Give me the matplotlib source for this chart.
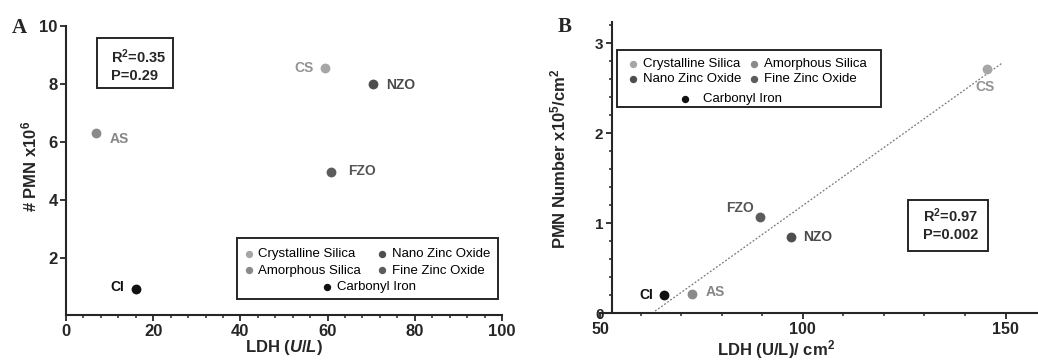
import numpy as np
import matplotlib
matplotlib.use("Agg")
import matplotlib.pyplot as plt
from matplotlib.ticker import MultipleLocator
from matplotlib.patches import Rectangle

# Data
abbrevs = ["CS", "AS", "NZO", "FZO", "CI"]
names = ["Crystalline Silica", "Amorphous Silica", "Nano Zinc Oxide",
         "Fine Zinc Oxide", "Carbonyl Iron"]
colors = ["#a6a6a6", "#8a8a8a", "#4e4e4e", "#5c5c5c", "#111111"]
label_colors = ["#939393", "#868686", "#4a4a4a", "#555555", "#111111"]

# panel A: LDH (U/L) vs PMN x10^6
ldh_a = [59.3, 6.8, 70.5, 60.8, 16.1]
pmn_a = [8.56, 6.3, 8.0, 4.94, 0.92]
# panel B: LDH (U/L)/cm2 vs PMN x10^5/cm2
ldh_b = [145.5, 72.8, 97.1, 89.5, 65.7]
pmn_b = [2.71, 0.21, 0.85, 1.07, 0.20]

stats_a = "R$^2$=0.35\nP=0.29"
stats_b = "R$^2$=0.97\nP=0.002"

plt.rcParams["font.family"] = ["Liberation Sans", "DejaVu Sans"]
plt.rcParams["mathtext.fontset"] = "custom"
plt.rcParams["mathtext.rm"] = "Liberation Sans:bold"
plt.rcParams["mathtext.bf"] = "Liberation Sans:bold"
plt.rcParams["mathtext.it"] = "Liberation Sans:italic:bold"

INK = "#262626"

fig = plt.figure(figsize=(10.38, 3.63), dpi=100)
ax_a = fig.add_axes([0.0636, 0.1309, 0.42, 0.7975])
ax_b = fig.add_axes([0.578, 0.1369, 0.422, 0.8033])


def style_axes(ax, xsize, ysize):
    for s in ["top", "right"]:
        ax.spines[s].set_visible(False)
    for s in ["left", "bottom"]:
        ax.spines[s].set_linewidth(1.5)
        ax.spines[s].set_color(INK)
    ax.tick_params(which="major", direction="out", length=4, width=1.3,
                   color=INK, labelcolor=INK, pad=2)
    ax.tick_params(which="minor", direction="out", length=2.5, width=1.1, color=INK)
    ax.tick_params(axis="x", labelsize=xsize)
    ax.tick_params(axis="y", labelsize=ysize)
    for lab in ax.get_xticklabels() + ax.get_yticklabels():
        lab.set_fontweight("bold")


def place_labels(ax, xs, ys, offsets):
    for i, ab in enumerate(abbrevs):
        dx, dy, ha = offsets[ab]
        ax.annotate(ab, (xs[i], ys[i]), xytext=(dx, dy), textcoords="offset pixels",
                    ha=ha, va="center", fontsize=10, fontweight="bold",
                    color=label_colors[i])


def stats_box(ax, txt, box, text_xy):
    x0, y0, x1, y1 = box
    ax.add_patch(Rectangle((x0, y0), x1 - x0, y1 - y0, transform=ax.transAxes,
                           fill=True, fc="white", lw=1.4, ec=INK, zorder=5))
    ax.text(text_xy[0], text_xy[1], txt, transform=ax.transAxes, ha="left",
            va="center", fontsize=10.5, fontweight="bold", color=INK,
            linespacing=1.25, zorder=6)


def add_legend(ax, order, handles, frame, first_anchor, last_anchor, colspacing,
               rowspacing, last_pad):
    x0, y0, x1, y1 = frame
    ax.add_patch(Rectangle((x0, y0), x1 - x0, y1 - y0, transform=ax.transAxes,
                           fill=False, lw=1.4, ec=INK, zorder=5))
    leg1 = ax.legend([handles[i] for i in order], [names[i] for i in order],
                     ncol=2, loc="upper left", bbox_to_anchor=first_anchor,
                     frameon=False, fontsize=9.5, borderpad=0, borderaxespad=0,
                     handlelength=0.8, handletextpad=0.33, labelspacing=rowspacing,
                     columnspacing=colspacing, markerscale=0.75)
    ax.add_artist(leg1)
    ax.legend([handles[4]], [names[4]], loc="upper left", bbox_to_anchor=last_anchor,
              frameon=False, fontsize=9.5, borderpad=0, borderaxespad=0,
              handlelength=0.8, handletextpad=last_pad, markerscale=0.75)


# ---- panel A ----
handles_a = []
for i in range(len(abbrevs)):
    h = ax_a.scatter(ldh_a[i], pmn_a[i], s=50, color=colors[i], zorder=3, linewidths=0)
    handles_a.append(h)
ax_a.set_xlim(0, 100)
ax_a.set_ylim(0, 10)
ax_a.xaxis.set_major_locator(MultipleLocator(20))
ax_a.xaxis.set_minor_locator(MultipleLocator(4))
ax_a.set_yticks([2, 4, 6, 8, 10])
style_axes(ax_a, 12, 12)
ax_a.set_xlabel("LDH $\\mathit{(U/L)}$", fontsize=12, fontweight="bold", color=INK)
ax_a.xaxis.set_label_coords(0.5, -0.078)
ax_a.set_ylabel("# PMN x10$^6$", fontsize=12, fontweight="bold", color=INK)
ax_a.yaxis.set_label_coords(-0.062, 0.514)
place_labels(ax_a, ldh_a, pmn_a,
             {"CS": (-11, 0, "right"), "AS": (14, -6, "left"), "NZO": (13, -1, "left"),
              "FZO": (17, 1, "left"), "CI": (-12, 2, "right")})
stats_box(ax_a, stats_a, (0.0704, 0.787, 0.246, 0.9596), (0.1028, 0.864))
add_legend(ax_a, [0, 1, 2, 3], handles_a, (0.3915, 0.057, 0.990, 0.269),
           (0.4069, 0.234), (0.5865, 0.119), 1.19, 0.33, 0.33)
ax_a.text(-0.125, 0.993, "A", transform=ax_a.transAxes, ha="left", va="center",
          fontsize=15, fontweight="bold", family="Liberation Serif", color=INK)

# ---- panel B ----
handles_b = []
for i in range(len(abbrevs)):
    h = ax_b.scatter(ldh_b[i], pmn_b[i], s=50, color=colors[i], zorder=3, linewidths=0)
    handles_b.append(h)
slope, icept = np.polyfit(ldh_b, pmn_b, 1)
fit_x = np.array([-icept / slope, max(ldh_b) + 3.7])
ax_b.plot(fit_x, slope * fit_x + icept, ls=(0, (1.5, 1.5)), lw=0.9, color="#777777",
          zorder=2)
ax_b.set_xlim(50, 158)
ax_b.set_ylim(0, 3.24)
ax_b.spines["left"].set_position(("data", 52.9))
ax_b.xaxis.set_major_locator(MultipleLocator(50))
ax_b.xaxis.set_minor_locator(MultipleLocator(10))
ax_b.set_yticks([0, 1, 2, 3])
ax_b.yaxis.set_minor_locator(MultipleLocator(0.2))
style_axes(ax_b, 11.5, 11)
ax_b.set_xlabel("LDH (U/L)/ cm$^2$", fontsize=12, fontweight="bold", color=INK)
ax_b.xaxis.set_label_coords(0.402, -0.085)
ax_b.set_ylabel("PMN Number x10$^5$/cm$^2$", fontsize=12, fontweight="bold",
                color=INK)
ax_b.yaxis.set_label_coords(-0.073, 0.53)
place_labels(ax_b, ldh_b, pmn_b,
             {"CS": (-2, -18, "center"), "AS": (13, 2, "left"), "NZO": (12, 0, "left"),
              "FZO": (-6, 9, "right"), "CI": (-11, 0, "right")})
stats_box(ax_b, stats_b, (0.7025, 0.2136, 0.8865, 0.3885), (0.7367, 0.306))
add_legend(ax_b, [0, 2, 1, 3], handles_b, (0.0395, 0.7065, 0.641, 0.903),
           (0.0639, 0.876), (0.182, 0.756), 0.6, 0.21, 1.0)
ax_b.text(-0.096, 0.983, "B", transform=ax_b.transAxes, ha="left", va="center",
          fontsize=15, fontweight="bold", family="Liberation Serif", color=INK)

fig.savefig("out.png", dpi=100)
